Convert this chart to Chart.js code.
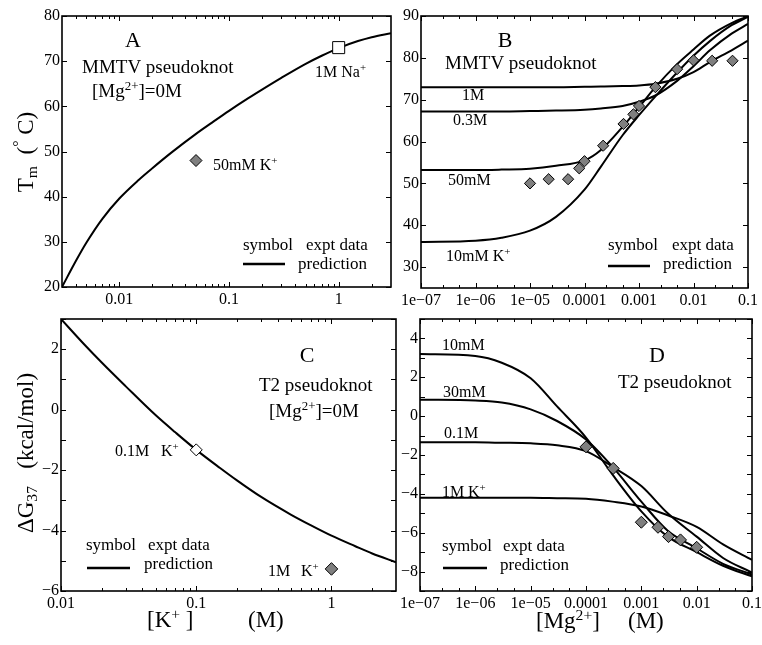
<!DOCTYPE html>
<html><head><meta charset="utf-8">
<script src="https://cdn.jsdelivr.net/npm/chart.js@4.4.1/dist/chart.umd.min.js"></script>
<style>
html,body{margin:0;padding:0;background:#fff;overflow:hidden;}
#wrap{position:relative;width:762px;height:645px;background:#fff;}
canvas{position:absolute;left:0;top:0;}
</style></head><body><div id="wrap">
<canvas id="cA" width="762" height="645"></canvas>
<canvas id="cB" width="762" height="645"></canvas>
<canvas id="cC" width="762" height="645"></canvas>
<canvas id="cD" width="762" height="645"></canvas>
</div>
<script>
// ---------- Panel A: Tm vs [K+] (MMTV, no Mg) ----------
const aPredX  = [0.003, 0.004, 0.005, 0.007, 0.01, 0.015, 0.02, 0.03, 0.05, 0.07, 0.1, 0.15, 0.2, 0.3, 0.5, 0.7, 1, 1.5, 2, 3];
const aPredTm = [20, 25.7, 29.8, 35.1, 39.6, 43.7, 46.3, 49.8, 53.9, 56.4, 59, 61.8, 63.7, 66.3, 69.4, 71.2, 72.9, 74.45, 75.3, 76.2];
const aExptKX = [0.05];  const aExptKTm = [48];   // 50mM K+
const aExptNaX = [1];    const aExptNaTm = [73];  // 1M Na+
const aXTicks = [0.01, 0.1, 1];  const aXLabels = ['0.01', '0.1', '1'];
const aYTicks = [20, 30, 40, 50, 60, 70, 80];

// ---------- Panel B: Tm vs [Mg2+] (MMTV) ----------
const bX     = [1e-7, 1e-6, 3e-6, 1e-5, 3e-5, 1e-4, 2e-4, 5e-4, 1e-3, 2e-3, 5e-3, 1e-2, 2e-2, 5e-2, 1e-1];
const b10mM  = [36, 36.3, 37, 38.7, 42, 48.5, 54, 61.5, 66.3, 70.8, 76.5, 80.5, 84, 87.8, 89.8];
const b50mM  = [53.2, 53.2, 53.3, 53.5, 54.2, 55.5, 58, 63.5, 68.2, 73, 78.5, 82, 85.3, 88.3, 89.9];
const b03M   = [67.2, 67.2, 67.2, 67.3, 67.4, 67.6, 67.9, 68.5, 69.5, 71, 74.5, 78, 81.8, 85.8, 88.1];
const b1M    = [73, 73, 73, 73, 73, 73.1, 73.15, 73.25, 73.4, 73.8, 75, 76.6, 79, 81.8, 84.1];
const bExptX  = [1e-5, 2.2e-5, 5e-5, 8e-5, 1e-4, 2.2e-4, 5.2e-4, 7.9e-4, 1e-3, 2e-3, 5e-3, 1e-2, 2.2e-2, 5.2e-2];
const bExptTm = [50, 51, 51, 53.6, 55.3, 59, 64.2, 66.5, 68.5, 73, 77.3, 79.4, 79.3, 79.3];
const mgTicks  = [1e-7, 1e-6, 1e-5, 1e-4, 1e-3, 1e-2, 1e-1];
const mgLabels = ['1e\u221207', '1e\u221206', '1e\u221205', '0.0001', '0.001', '0.01', '0.1'];
const bYTicks = [30, 40, 50, 60, 70, 80, 90];

// ---------- Panel C: dG37 vs [K+] (T2, no Mg) ----------
const cPredX  = [0.01, 0.015, 0.02, 0.03, 0.05, 0.07, 0.1, 0.15, 0.2, 0.3, 0.5, 0.7, 1, 1.5, 2, 3];
const cPredDG = [3.0, 2.14, 1.56, 0.78, -0.18, -0.75, -1.33, -1.93, -2.34, -2.88, -3.47, -3.82, -4.17, -4.52, -4.76, -5.05];
const cExptOpenX = [0.1]; const cExptOpenDG = [-1.33];   // 0.1M K+
const cExptX = [1];       const cExptDG = [-5.27];       // 1M K+
const cXTicks = [0.01, 0.1, 1]; const cXLabels = ['0.01', '0.1', '1'];
const cYTicks = [-6, -4, -2, 0, 2];

// ---------- Panel D: dG37 vs [Mg2+] (T2) ----------
const dX     = [1e-7, 1e-6, 3e-6, 1e-5, 3e-5, 1e-4, 3e-4, 1e-3, 3e-3, 1e-2, 3e-2, 1e-1];
const d10mM  = [3.2, 3.1, 2.75, 1.95, 0.5, -1.1, -3.0, -4.9, -6.2, -7.0, -7.7, -8.25];
const d30mM  = [0.85, 0.8, 0.7, 0.35, -0.25, -1.2, -2.6, -4.4, -5.9, -6.8, -7.6, -8.15];
const d01M   = [-1.35, -1.35, -1.37, -1.4, -1.5, -1.8, -2.6, -3.6, -5.0, -6.2, -7.3, -8.05];
const d1M    = [-4.2, -4.2, -4.2, -4.2, -4.22, -4.25, -4.4, -4.65, -5.1, -5.7, -6.6, -7.4];
const dExptX  = [1e-4, 3.1e-4, 1e-3, 2e-3, 3.1e-3, 5.1e-3, 1e-2];
const dExptDG = [-1.58, -2.69, -5.46, -5.72, -6.2, -6.37, -6.75];
const dYTicks = [-8, -6, -4, -2, 0, 2, 4];

// ---------------------------------------------------------------
const W = 762, H = 645, YW = 40, XH = 30;
const FONT = '"Liberation Serif", "Times New Roman", serif';
const GRAY = '#7f7f7f';
const fmt = v => String(v).replace('-', '\u2212');

function pts(xs, ys) { return xs.map((x, i) => ({x: x, y: ys[i]})); }
function lineDs(xs, ys) {
  return {data: pts(xs, ys), borderColor: '#000', borderWidth: 2, pointRadius: 0,
          cubicInterpolationMode: 'monotone', fill: false, order: 2};
}
function markDs(xs, ys, style, fill, r) {
  return {data: pts(xs, ys), showLine: false, pointStyle: style, pointRadius: r,
          pointBackgroundColor: fill, pointBorderColor: '#000', pointBorderWidth: 1,
          borderColor: '#000', backgroundColor: fill, order: 1};
}
function logMinors(lo, hi, mults) {
  const out = [];
  for (let e = Math.floor(Math.log10(lo)); e <= Math.ceil(Math.log10(hi)); e++) {
    for (const m of mults) { const v = m * Math.pow(10, e); if (v > lo * 1.0001 && v < hi * 0.9999) out.push(v); }
  }
  return out;
}
function range(a, b, s) { const o = []; for (let v = a; v <= b + 1e-9; v += s) o.push(v); return o; }

function drawRich(ctx, x, y, segs, size, align) {
  const parts = segs.map(s => {
    const sz = s[1] ? size * 0.68 : size;
    ctx.font = sz + 'px ' + FONT;
    return {t: s[0], m: s[1], sz: sz, w: ctx.measureText(s[0]).width};
  });
  const tot = parts.reduce((a, p) => a + p.w, 0);
  let cx = align === 'center' ? x - tot / 2 : (align === 'right' ? x - tot : x);
  ctx.textAlign = 'left';
  for (const p of parts) {
    ctx.font = p.sz + 'px ' + FONT;
    const dy = p.m === 1 ? -size * 0.36 : (p.m === -1 ? size * 0.24 : 0);
    ctx.fillText(p.t, cx, y + dy);
    cx += p.w;
  }
}

function decor(cfg) {
  return {
    id: 'decor' + cfg.name,
    afterDraw(chart) {
      const ctx = chart.ctx, a = chart.chartArea, xs = chart.scales.x, ys = chart.scales.y;
      ctx.save();
      ctx.strokeStyle = '#000';
      ctx.lineWidth = 1;
      ctx.beginPath();
      const tx = (v, len) => { const p = Math.round(xs.getPixelForValue(v)) + 0.5;
        ctx.moveTo(p, a.bottom); ctx.lineTo(p, a.bottom - len); ctx.moveTo(p, a.top); ctx.lineTo(p, a.top + len); };
      const ty = (v, len) => { const p = Math.round(ys.getPixelForValue(v)) + 0.5;
        ctx.moveTo(a.left, p); ctx.lineTo(a.left + len, p); ctx.moveTo(a.right, p); ctx.lineTo(a.right - len, p); };
      cfg.xMajor.forEach(v => tx(v, 5));
      cfg.xMinor.forEach(v => tx(v, 3));
      cfg.yMajor.forEach(v => ty(v, 5));
      (cfg.yMinor || []).forEach(v => ty(v, 5));
      ctx.stroke();
      ctx.lineWidth = 1.6;
      ctx.strokeRect(a.left, a.top, a.right - a.left, a.bottom - a.top);
      ctx.fillStyle = '#000';
      ctx.textBaseline = 'alphabetic';
      for (const t of cfg.texts) drawRich(ctx, t.x, t.y, t.segs, t.size, t.align || 'left');
      for (const l of cfg.lines) {
        ctx.lineWidth = 2.5; ctx.beginPath(); ctx.moveTo(l.x1, l.y); ctx.lineTo(l.x2, l.y); ctx.stroke();
      }
      for (const t of (cfg.vtexts || [])) {
        ctx.save(); ctx.translate(t.x, t.y); ctx.rotate(-Math.PI / 2);
        ctx.textBaseline = 'middle';
        drawRich(ctx, 0, 0, t.segs, t.size, 'center');
        ctx.restore();
      }
      ctx.restore();
    }
  };
}

function makePanel(id, box, xr, yr, xt, xl, yt, datasets, cfg) {
  new Chart(document.getElementById(id), {
    type: 'line',
    data: {datasets: datasets},
    options: {
      responsive: false, animation: false, events: [],
      layout: {padding: {left: box.l - YW, right: W - box.r, top: box.t, bottom: H - box.b - XH}},
      plugins: {legend: {display: false}, tooltip: {enabled: false}},
      scales: {
        x: {type: 'logarithmic', position: 'bottom', min: xr[0], max: xr[1],
            afterBuildTicks: s => { s.ticks = xt.map(v => ({value: v})); },
            afterFit: s => { s.height = XH; s.paddingLeft = 0; s.paddingRight = 0; },
            ticks: {autoSkip: false, maxRotation: 0, minRotation: 0, padding: 3, color: '#000',
                    font: {family: FONT, size: 16}, callback: (v, i) => xl[i]},
            grid: {display: false, drawTicks: false}, border: {display: false}},
        y: {type: 'linear', position: 'left', min: yr[0], max: yr[1],
            afterBuildTicks: s => { s.ticks = yt.map(v => ({value: v})); },
            afterFit: s => { s.width = YW; s.paddingTop = 0; s.paddingBottom = 0; },
            ticks: {autoSkip: false, padding: 2, color: '#000',
                    font: {family: FONT, size: 16}, callback: v => fmt(v)},
            grid: {display: false, drawTicks: false}, border: {display: false}}
      }
    },
    plugins: [decor(cfg)]
  });
}

const legendTexts = (sx, ex, px, by) => [
  {x: sx, y: by, size: 17, segs: [['symbol', 0]]},
  {x: ex, y: by, size: 17, segs: [['expt data', 0]]},
  {x: px, y: by + 19, size: 17, segs: [['prediction', 0]]}
];

// Panel A
makePanel('cA', {l: 62, r: 391, t: 16, b: 287}, [0.003, 3], [20, 80], aXTicks, aXLabels, aYTicks,
  [markDs(aExptKX, aExptKTm, 'rectRot', GRAY, 6),
   markDs(aExptNaX, aExptNaTm, 'rect', '#fff', 8.5),
   lineDs(aPredX, aPredTm)],
  {name: 'A', xMajor: aXTicks, xMinor: logMinors(0.003, 3, [2,3,4,5,6,7,8,9]), yMajor: aYTicks,
   texts: [
     {x: 133, y: 47, size: 22, segs: [['A', 0]], align: 'center'},
     {x: 82, y: 73, size: 19, segs: [['MMTV pseudoknot', 0]]},
     {x: 92, y: 97, size: 19, segs: [['[Mg', 0], ['2+', 1], [']=0M', 0]]},
     {x: 315, y: 77, size: 16, segs: [['1M Na', 0], ['+', 1]]},
     {x: 213, y: 170, size: 16, segs: [['50mM K', 0], ['+', 1]]}
   ].concat(legendTexts(243, 306, 298, 250)),
   lines: [{x1: 243, x2: 285, y: 264}],
   vtexts: [{x: 27, y: 152, size: 23, segs: [['T', 0], ['m', -1], ['  (', 0], ['\u00B0', 1], [' C)', 0]]}]
  });

// Panel B
makePanel('cB', {l: 421, r: 748, t: 16, b: 288}, [1e-7, 0.1], [25, 90], mgTicks, mgLabels, bYTicks,
  [markDs(bExptX, bExptTm, 'rectRot', GRAY, 5.6),
   lineDs(bX, b10mM), lineDs(bX, b50mM), lineDs(bX, b03M), lineDs(bX, b1M)],
  {name: 'B', xMajor: mgTicks, xMinor: logMinors(1e-7, 0.1, [2.5, 5]), yMajor: bYTicks,
   texts: [
     {x: 505, y: 47, size: 22, segs: [['B', 0]], align: 'center'},
     {x: 445, y: 69, size: 19, segs: [['MMTV pseudoknot', 0]]},
     {x: 462, y: 100, size: 16, segs: [['1M', 0]]},
     {x: 453, y: 125, size: 16, segs: [['0.3M', 0]]},
     {x: 448, y: 185, size: 16, segs: [['50mM', 0]]},
     {x: 446, y: 261, size: 16, segs: [['10mM K', 0], ['+', 1]]}
   ].concat(legendTexts(608, 672, 663, 250)),
   lines: [{x1: 608, x2: 650, y: 266}]
  });

// Panel C
makePanel('cC', {l: 61, r: 396, t: 319, b: 591}, [0.01, 3], [-6, 3], cXTicks, cXLabels, cYTicks,
  [markDs(cExptOpenX, cExptOpenDG, 'rectRot', '#fff', 6),
   markDs(cExptX, cExptDG, 'rectRot', GRAY, 6.3),
   lineDs(cPredX, cPredDG)],
  {name: 'C', xMajor: cXTicks, xMinor: logMinors(0.01, 3, [2,3,4,5,6,7,8,9]), yMajor: cYTicks,
   yMinor: range(-5, 3, 2),
   texts: [
     {x: 307, y: 362, size: 22, segs: [['C', 0]], align: 'center'},
     {x: 259, y: 391, size: 19, segs: [['T2 pseudoknot', 0]]},
     {x: 269, y: 417, size: 19, segs: [['[Mg', 0], ['2+', 1], [']=0M', 0]]},
     {x: 115, y: 456, size: 16, segs: [['0.1M', 0]]},
     {x: 161, y: 456, size: 16, segs: [['K', 0], ['+', 1]]},
     {x: 268, y: 576, size: 16, segs: [['1M', 0]]},
     {x: 301, y: 576, size: 16, segs: [['K', 0], ['+', 1]]},
     {x: 147, y: 627, size: 23, segs: [['[K', 0], ['+', 1], [' ]', 0]]},
     {x: 248, y: 627, size: 23, segs: [['(M)', 0]]}
   ].concat(legendTexts(86, 148, 144, 550)),
   lines: [{x1: 87, x2: 130, y: 568}],
   vtexts: [{x: 27, y: 453, size: 23, segs: [['\u0394G', 0], ['37', -1], ['   (kcal/mol)', 0]]}]
  });

// Panel D
makePanel('cD', {l: 420, r: 752, t: 319, b: 591}, [1e-7, 0.1], [-9, 5], mgTicks, mgLabels, dYTicks,
  [markDs(dExptX, dExptDG, 'rectRot', GRAY, 6),
   lineDs(dX, d10mM), lineDs(dX, d30mM), lineDs(dX, d01M), lineDs(dX, d1M)],
  {name: 'D', xMajor: mgTicks, xMinor: logMinors(1e-7, 0.1, [2.5, 5]), yMajor: dYTicks,
   yMinor: range(-9, 5, 2),
   texts: [
     {x: 657, y: 362, size: 22, segs: [['D', 0]], align: 'center'},
     {x: 618, y: 388, size: 19, segs: [['T2 pseudoknot', 0]]},
     {x: 442, y: 350, size: 16, segs: [['10mM', 0]]},
     {x: 443, y: 397, size: 16, segs: [['30mM', 0]]},
     {x: 444, y: 438, size: 16, segs: [['0.1M', 0]]},
     {x: 442, y: 497, size: 16, segs: [['1M', 0]]},
     {x: 468, y: 497, size: 16, segs: [['K', 0], ['+', 1]]},
     {x: 536, y: 628, size: 23, segs: [['[Mg', 0], ['2+', 1], [']', 0]]},
     {x: 628, y: 628, size: 23, segs: [['(M)', 0]]}
   ].concat(legendTexts(442, 503, 500, 551)),
   lines: [{x1: 443, x2: 487, y: 568}]
  });
</script>
</body></html>
